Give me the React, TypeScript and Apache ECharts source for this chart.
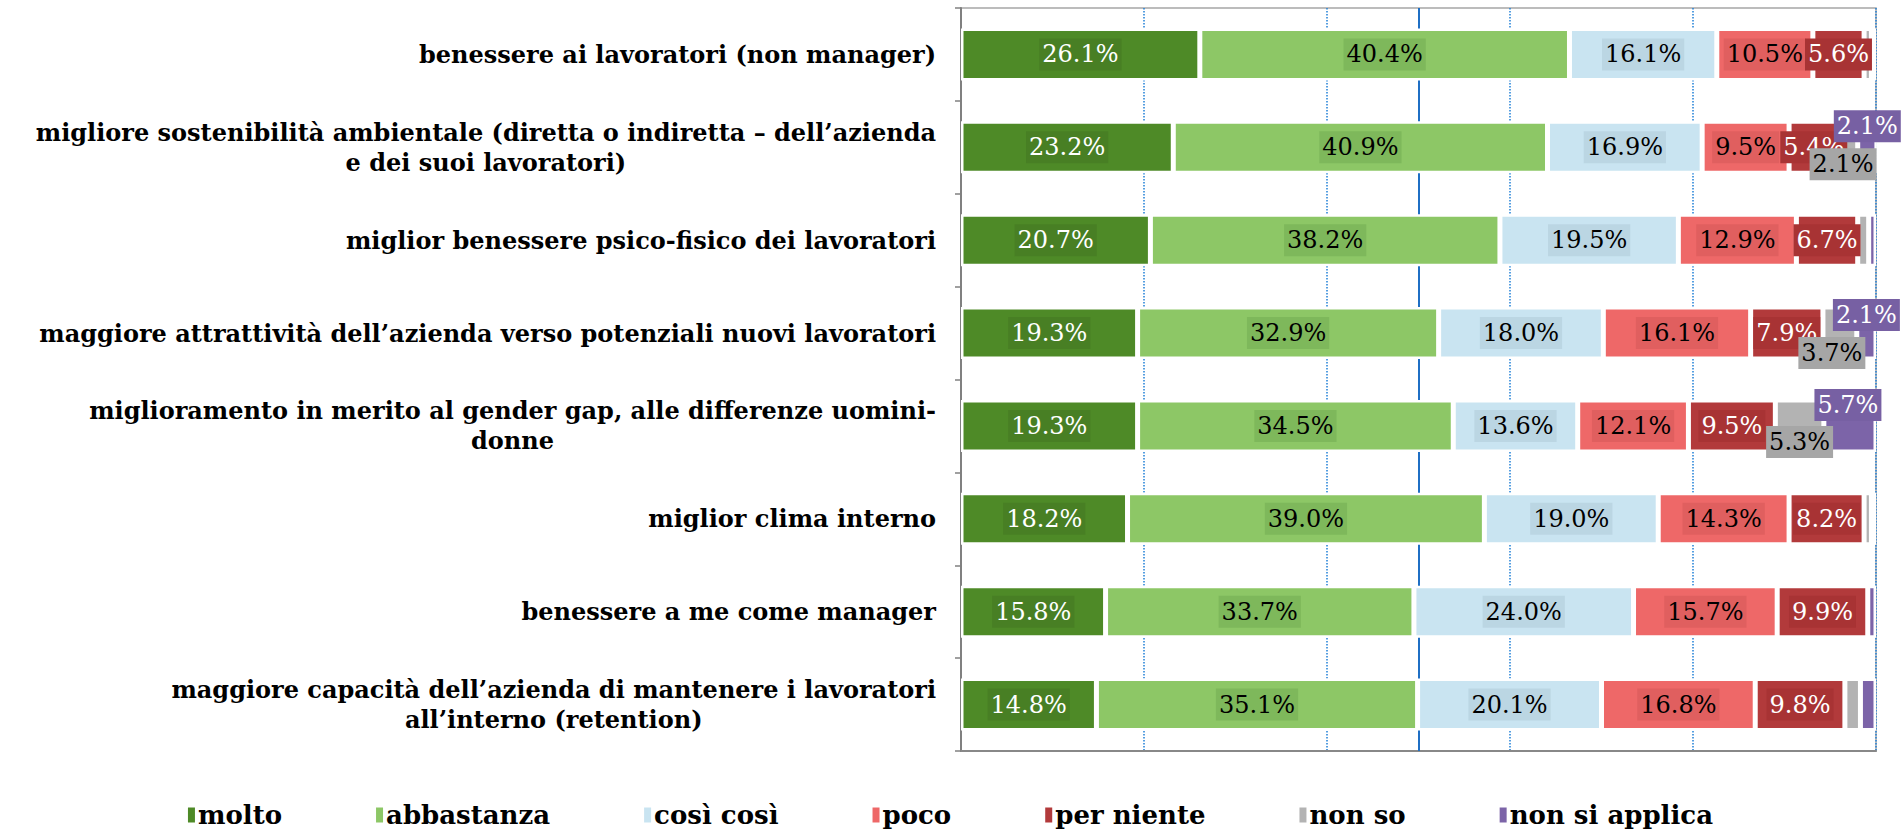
import React, { useEffect, useRef } from "react";
import * as echarts from "echarts";

const categories = [
  "benessere ai lavoratori (non manager)",
  "migliore sostenibilità ambientale (diretta o indiretta – dell’azienda\ne dei suoi lavoratori)",
  "miglior benessere psico-fisico dei lavoratori",
  "maggiore attrattività dell’azienda verso potenziali nuovi lavoratori",
  "miglioramento in merito al gender gap, alle differenze uomini-\ndonne",
  "miglior clima interno",
  "benessere a me come manager",
  "maggiore capacità dell’azienda di mantenere i lavoratori\nall’interno (retention)",
];

const seriesNames = ["molto", "abbastanza", "così così", "poco", "per niente", "non so", "non si applica"];

const molto = [26.1, 23.2, 20.7, 19.3, 19.3, 18.2, 15.8, 14.8];
const abbastanza = [40.4, 40.9, 38.2, 32.9, 34.5, 39.0, 33.7, 35.1];
const cosiCosi = [16.1, 16.9, 19.5, 18.0, 13.6, 19.0, 24.0, 20.1];
const poco = [10.5, 9.5, 12.9, 16.1, 12.1, 14.3, 15.7, 16.8];
const perNiente = [5.6, 5.4, 6.7, 7.9, 9.5, 8.2, 9.9, 9.8];
const nonSo = [0.8, 2.1, 1.2, 3.7, 5.3, 0.8, 0, 1.7];
const nonSiApplica = [0.5, 2.1, 0.8, 2.1, 5.7, 0.5, 0.9, 1.7];

const seriesValues = [molto, abbastanza, cosiCosi, poco, perNiente, nonSo, nonSiApplica];

const barColors = ["#4E8A27", "#8DC766", "#C9E4F1", "#EE6868", "#B23A3B", "#B3B3B3", "#7C64A8"];
const labelBg = ["#487F24", "#7EB85B", "#BBD6E3", "#E05F5F", "#A83334", "#A6A6A6", "#7760A3"];
const labelColor = ["#ffffff", "#000000", "#000000", "#000000", "#ffffff", "#000000", "#ffffff"];

// manual label placement (styling only) for the small segments, keyed by series index then row index
const labelOffsets: Record<number, Record<number, [number, number]>> = {
  5: { 1: [-5, 17], 3: [-8, 20], 4: [0, 16] },
  6: { 1: [0, -21], 3: [0, -18], 4: [-2, -21] },
};

const SERIF = "'DejaVu Serif', 'Liberation Serif', serif";

export default function App() {
  const ref = useRef<HTMLDivElement>(null);

  useEffect(() => {
    if (!ref.current) return;
    const chart = echarts.init(ref.current, undefined, { renderer: "svg" });

    const series: any[] = seriesNames.map((name, si) => ({
      name,
      type: "bar",
      stack: "total",
      barWidth: 52,
      itemStyle: { color: barColors[si], borderColor: "#ffffff", borderWidth: 2.5 },
      label: {
        show: true,
        position: "inside",
        formatter: (p: any) => Number(p.value).toFixed(1) + "%",
        fontFamily: SERIF,
        fontSize: 24,
        lineHeight: 26,
        color: labelColor[si],
        backgroundColor: labelBg[si],
        padding: [3, 3, 3, 3],
      },
      data: seriesValues[si].map((v, ri) => {
        const off = labelOffsets[si] && labelOffsets[si][ri];
        const item: any = { value: v, label: { show: v >= 2 } };
        if (off) item.label.offset = off;
        return item;
      }),
      ...(si === 0
        ? {
            markLine: {
              silent: true,
              z: 1,
              symbol: "none",
              label: { show: false },
              lineStyle: { color: "#1F6FC4", width: 2, type: "solid" },
              data: [{ xAxis: 50 }],
            },
          }
        : {}),
    }));

    chart.setOption({
      animation: false,
      backgroundColor: "#ffffff",
      grid: {
        left: 961,
        right: 25,
        top: 8,
        bottom: 79,
        show: true,
        borderColor: "#a6a6a6",
        borderWidth: 1.5,
        containLabel: false,
      },
      legend: {
        top: 797,
        left: "center",
        icon: "rect",
        itemWidth: 7,
        itemHeight: 15,
        itemGap: 94,
        itemStyle: { borderWidth: 0 },
        textStyle: { fontFamily: SERIF, fontWeight: "bold", fontSize: 26, color: "#000", padding: [0, 0, 0, -2] },
        data: seriesNames,
      },
      xAxis: {
        type: "value",
        min: 0,
        max: 100,
        interval: 20,
        axisLabel: { show: false },
        axisTick: { show: false },
        axisLine: { show: true, lineStyle: { color: "#888888", width: 2 } },
        splitLine: { show: true, lineStyle: { color: "#1F7FD6", width: 1.5, type: "dotted" } },
      },
      yAxis: {
        type: "category",
        inverse: true,
        data: categories,
        axisLine: { show: true, lineStyle: { color: "#808080", width: 2 } },
        axisTick: { show: true, length: 6, lineStyle: { color: "#808080", width: 1.5 } },
        axisLabel: {
          margin: 25,
          align: "right",
          formatter: (v: string) => v.split("\n").map((l) => `{c|${l}}`).join("\n"),
          rich: {
            c: {
              align: "center",
              fontFamily: SERIF,
              fontWeight: "bold",
              fontSize: 24,
              lineHeight: 30,
              color: "#000",
            },
          },
        },
      },
      series,
    });

    return () => chart.dispose();
  }, []);

  return (
    <div
      ref={ref}
      style={{ position: "fixed", left: 0, top: 0, width: 1901, height: 830, background: "#fff" }}
    />
  );
}
